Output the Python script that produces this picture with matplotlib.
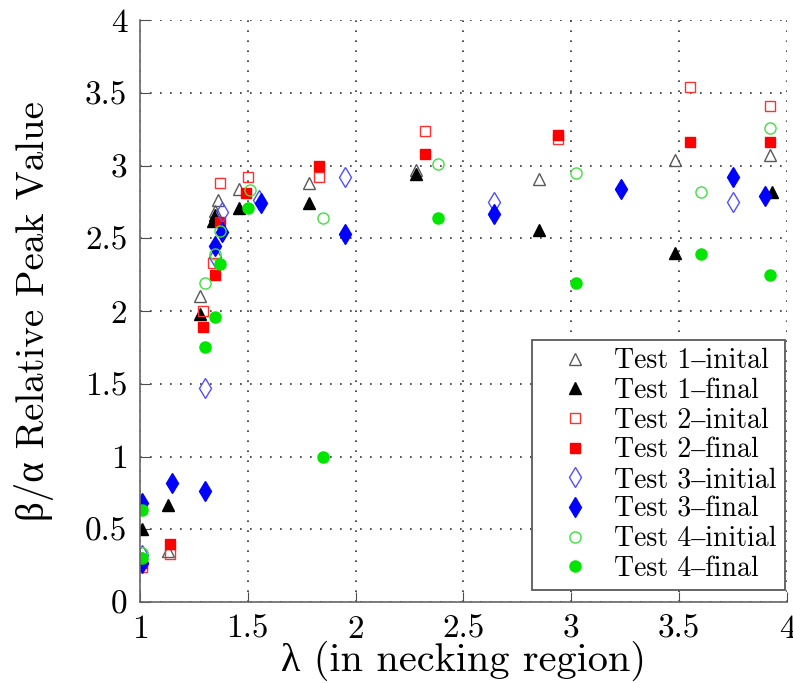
import matplotlib
matplotlib.use('Agg')
import matplotlib.pyplot as plt

plt.rcParams['font.family'] = ['cmr10', 'Liberation Serif', 'DejaVu Serif']
plt.rcParams['mathtext.fontset'] = 'cm'
plt.rcParams['axes.formatter.use_mathtext'] = True

# Test 1
t1i_x = [1.01, 1.13, 1.28, 1.35, 1.36, 1.46, 1.785, 2.28, 2.85, 3.48, 3.92]
t1i_y = [0.30, 0.35, 2.10, 2.69, 2.76, 2.84, 2.88, 2.97, 2.91, 3.04, 3.07]
t1f_x = [1.01, 1.13, 1.28, 1.34, 1.35, 1.46, 1.785, 2.28, 2.85, 3.48, 3.93]
t1f_y = [0.50, 0.67, 1.98, 2.62, 2.66, 2.71, 2.74, 2.94, 2.56, 2.40, 2.82]

# Test 2
t2i_x = [1.01, 1.14, 1.29, 1.34, 1.37, 1.50, 1.83, 2.32, 2.94, 3.55, 3.92]
t2i_y = [0.24, 0.33, 2.00, 2.33, 2.88, 2.92, 2.92, 3.24, 3.18, 3.54, 3.41]
t2f_x = [1.01, 1.14, 1.29, 1.35, 1.37, 1.49, 1.83, 2.32, 2.94, 3.55, 3.92]
t2f_y = [0.27, 0.40, 1.89, 2.25, 2.61, 2.81, 3.00, 3.08, 3.21, 3.16, 3.16]

# Test 3
t3i_x = [1.01, 1.30, 1.35, 1.38, 1.55, 1.95, 2.64, 3.75]
t3i_y = [0.32, 1.47, 2.37, 2.68, 2.76, 2.92, 2.75, 2.75]
t3f_x = [1.01, 1.01, 1.15, 1.30, 1.35, 1.38, 1.56, 1.95, 2.64, 3.23, 3.75, 3.90]
t3f_y = [0.27, 0.68, 0.82, 0.76, 2.45, 2.54, 2.74, 2.53, 2.67, 2.84, 2.92, 2.79]

# Test 4
t4i_x = [1.01, 1.30, 1.35, 1.37, 1.51, 1.85, 2.38, 3.02, 3.60, 3.92]
t4i_y = [0.34, 2.19, 2.39, 2.55, 2.83, 2.64, 3.01, 2.95, 2.82, 3.26]
t4f_x = [1.01, 1.01, 1.30, 1.35, 1.37, 1.50, 1.85, 2.38, 3.02, 3.60, 3.92]
t4f_y = [0.30, 0.63, 1.75, 1.96, 2.32, 2.71, 1.00, 2.64, 2.19, 2.39, 2.25]

labels = ['Test 1\u2013inital', 'Test 1\u2013final', 'Test 2\u2013inital', 'Test 2\u2013final',
          'Test 3\u2013initial', 'Test 3\u2013final', 'Test 4\u2013initial', 'Test 4\u2013final']

fig = plt.figure(figsize=(7.93, 6.83), dpi=100)
ax = fig.add_axes([0.1765, 0.1186, 0.8159, 0.8521])

ax.plot(t1i_x, t1i_y, ls='none', marker='^', ms=9, mfc='none', mec='0.35', mew=1.0, label=labels[0])
ax.plot(t1f_x, t1f_y, ls='none', marker='^', ms=9, mfc='black', mec='black', label=labels[1])
ax.plot(t2i_x, t2i_y, ls='none', marker='s', ms=7.5, mfc='none', mec='#ff3030', mew=1.0, label=labels[2])
ax.plot(t2f_x, t2f_y, ls='none', marker='s', ms=7.5, mfc='#ff0000', mec='#ff0000', label=labels[3])
ax.plot(t3i_x, t3i_y, ls='none', marker='d', ms=10, mfc='none', mec='#5050ff', mew=1.0, label=labels[4])
ax.plot(t3f_x, t3f_y, ls='none', marker='d', ms=10, mfc='#0000ff', mec='#0000ff', label=labels[5])
ax.plot(t4i_x, t4i_y, ls='none', marker='o', ms=8, mfc='none', mec='#40e040', mew=1.0, label=labels[6])
ax.plot(t4f_x, t4f_y, ls='none', marker='o', ms=8, mfc='#00e600', mec='#00e600', label=labels[7])

ax.set_xlim(1, 4)
ax.set_ylim(0, 4)
ax.set_xticks([1, 1.5, 2, 2.5, 3, 3.5, 4])
ax.set_xticklabels(['1', '1.5', '2', '2.5', '3', '3.5', '4'])
ax.set_yticks([0, 0.5, 1, 1.5, 2, 2.5, 3, 3.5, 4])
ax.set_yticklabels(['0', '0.5', '1', '1.5', '2', '2.5', '3', '3.5', '4'])

ax.grid(True, color='0.2', linestyle=(0, (1, 5)), linewidth=1.2)
ax.spines['top'].set_visible(False)
ax.spines['right'].set_visible(False)
for s in ['left', 'bottom']:
    ax.spines[s].set_color('0.4')
    ax.spines[s].set_linewidth(1.2)
ax.tick_params(direction='in', length=7, color='0.3', labelsize=24, pad=9)

ax.set_xlabel('\u03bb (in necking region)', fontsize=29, labelpad=-2)
ax.set_ylabel('\u03b2/\u03b1 Relative Peak Value', fontsize=28, labelpad=22)

leg = ax.legend(loc='lower right', bbox_to_anchor=(0.997, 0.02), fontsize=20,
                fancybox=False, framealpha=1, edgecolor='0.35',
                handletextpad=0.15, labelspacing=0.12, borderpad=0.3,
                borderaxespad=0, handlelength=2.5)
leg.get_frame().set_linewidth(1.3)

fig.savefig('out.png', dpi=100)
